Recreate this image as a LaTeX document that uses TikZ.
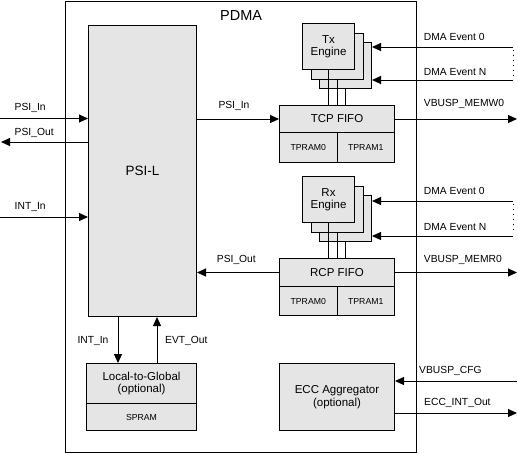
\documentclass[tikz,border=0pt]{standalone}
\usepackage{fontspec}
\setmainfont{Liberation Sans}
\usetikzlibrary{arrows.meta,calc}
\definecolor{boxfill}{RGB}{229,229,229}
\begin{document}
\begin{tikzpicture}[x=1pt,y=-1pt,
  box/.style={draw,fill=boxfill,line width=1pt,inner sep=0pt,anchor=north west,align=center,font=\fontsize{11.5}{12.5}\selectfont},
  ram/.style={box,font=\fontsize{8.7}{10}\selectfont},
  lbl/.style={anchor=base west,inner sep=0pt,font=\fontsize{10.3}{12}\selectfont},
  arr/.style={line width=1pt,-{Triangle[length=9pt,width=8pt]}},
  ln/.style={line width=1pt},
  dots/.style={line width=1pt,dash pattern=on 1pt off 4pt}]
\useasboundingbox (0,0) rectangle (518,453);
% outer PDMA box
\node[draw,line width=1pt,minimum width=351pt,minimum height=451pt,anchor=north west,inner sep=0pt] (pdma) at (65,1) {};
\node[lbl,font=\fontsize{14.5}{16}\selectfont] (pdmalbl) at (220,20.5) {PDMA};
% PSI-L
\node[box,minimum width=108pt,minimum height=291pt,font=\fontsize{13.5}{15}\selectfont] (psil) at (88,25) {PSI-L};
% Tx engines
\node[box,minimum width=52pt,minimum height=46pt] (tx3) at (319,42) {};
\node[box,minimum width=52pt,minimum height=46pt] (tx2) at (310.5,32.5) {};
\node[box,minimum width=52pt,minimum height=46pt] (tx1) at (302,23) {Tx\\Engine};
% TCP FIFO
\node[box,minimum width=115pt,minimum height=27pt] (tcp) at (279,105) {TCP FIFO};
\node[ram,minimum width=57.5pt,minimum height=30pt] (tpram0) at (279,132) {TPRAM0};
\node[ram,minimum width=57.5pt,minimum height=30pt] (tpram1) at (336.5,132) {TPRAM1};
% Rx engines
\node[box,minimum width=52pt,minimum height=46pt] (rx3) at (319,195) {};
\node[box,minimum width=52pt,minimum height=46pt] (rx2) at (310.5,185.5) {};
\node[box,minimum width=52pt,minimum height=46pt] (rx1) at (302,176) {Rx\\Engine};
% RCP FIFO
\node[box,minimum width=115pt,minimum height=28pt] (rcp) at (279,258) {RCP FIFO};
\node[ram,minimum width=57.5pt,minimum height=29pt] (rpram0) at (279,286) {TPRAM0};
\node[ram,minimum width=57.5pt,minimum height=29pt] (rpram1) at (336.5,286) {TPRAM1};
% Local-to-Global
\node[box,minimum width=110pt,minimum height=40pt] (l2g) at (86,363) {Local-to-Global\\(optional)};
\node[ram,minimum width=110pt,minimum height=27pt] (spram) at (86,403) {SPRAM};
% ECC
\node[box,minimum width=115pt,minimum height=67pt] (ecc) at (279,363) {ECC Aggregator\\(optional)};

% engine to FIFO links
\draw[ln] (tx1.south) -- (tx1.south |- tcp.north);
\draw[ln] (tx2.south) -- (tx2.south |- tcp.north);
\draw[ln] (tx3.south) -- (tx3.south |- tcp.north);
\draw[ln] (rx1.south) -- (rx1.south |- rcp.north);
\draw[ln] (rx2.south) -- (rx2.south |- rcp.north);
\draw[ln] (rx3.south) -- (rx3.south |- rcp.north);

% coordinates of free ends
\coordinate (txe0) at (513,47);
\coordinate (txeN) at (513,80);
\coordinate (rxe0) at (513,201);
\coordinate (rxeN) at (513,236);
\coordinate (rgt) at (517,0);
\coordinate (lin) at (0,118.5);
\coordinate (lout) at (1,142);
\coordinate (lint) at (0,217);
\coordinate (intb) at (118,0);
\coordinate (evtb) at (157,0);
\coordinate (cfg) at (517,381);
\coordinate (eccout) at (517,413);

% DMA events
\draw[arr] (txe0) -- (txe0 -| tx3.east);
\draw[arr] (txeN) -- (txeN -| tx3.east);
\draw[dots] ($(txe0)+(0,3)$) -- ($(txeN)+(0,-2)$);
\draw[arr] (rxe0) -- (rxe0 -| rx3.east);
\draw[arr] (rxeN) -- (rxeN -| rx3.east);
\draw[dots] ($(rxe0)+(0,3)$) -- ($(rxeN)+(0,-2)$);

% FIFO outputs
\draw[arr] (tcp.east) -- (rgt |- tcp.east);
\draw[arr] (rcp.east) -- (rgt |- rcp.east);
\draw[arr] (psil.east |- tcp.west) -- (tcp.west);
\draw[arr] (rcp.west) -- (psil.east |- rcp.west);

% left side
\draw[arr] (lin) -- (lin -| psil.west);
\draw[arr] (lout -| psil.west) -- (lout);
\draw[arr] (lint) -- (lint -| psil.west);

% bottom
\draw[arr] (intb |- psil.south) -- (intb |- l2g.north);
\draw[arr] (evtb |- l2g.north) -- (evtb |- psil.south);

% ECC
\draw[arr] (cfg) -- (cfg -| ecc.east);
\draw[arr] (eccout -| ecc.east) -- (eccout);

% labels
\node[lbl] (l1) at (14.5,110.6) {PSI\_In};
\node[lbl] (l2) at (14.5,135) {PSI\_Out};
\node[lbl] (l3) at (14.5,209.6) {INT\_In};
\node[lbl] (l4) at (218.3,108.3) {PSI\_In};
\node[lbl] (l5) at (216.7,262.3) {PSI\_Out};
\node[lbl] (l6) at (77.3,343.3) {INT\_In};
\node[lbl] (l7) at (165,343.3) {EVT\_Out};
\node[lbl] (l8) at (423.7,40) {DMA Event 0};
\node[lbl] (l9) at (423.7,75) {DMA Event N};
\node[lbl] (l10) at (423.7,106) {VBUSP\_MEMW0};
\node[lbl] (l11) at (423.7,194) {DMA Event 0};
\node[lbl] (l12) at (423.7,230) {DMA Event N};
\node[lbl] (l13) at (423.7,262.3) {VBUSP\_MEMR0};
\node[lbl] (l14) at (419,373.3) {VBUSP\_CFG};
\node[lbl] (l15) at (424,405) {ECC\_INT\_Out};
\end{tikzpicture}
\end{document}
